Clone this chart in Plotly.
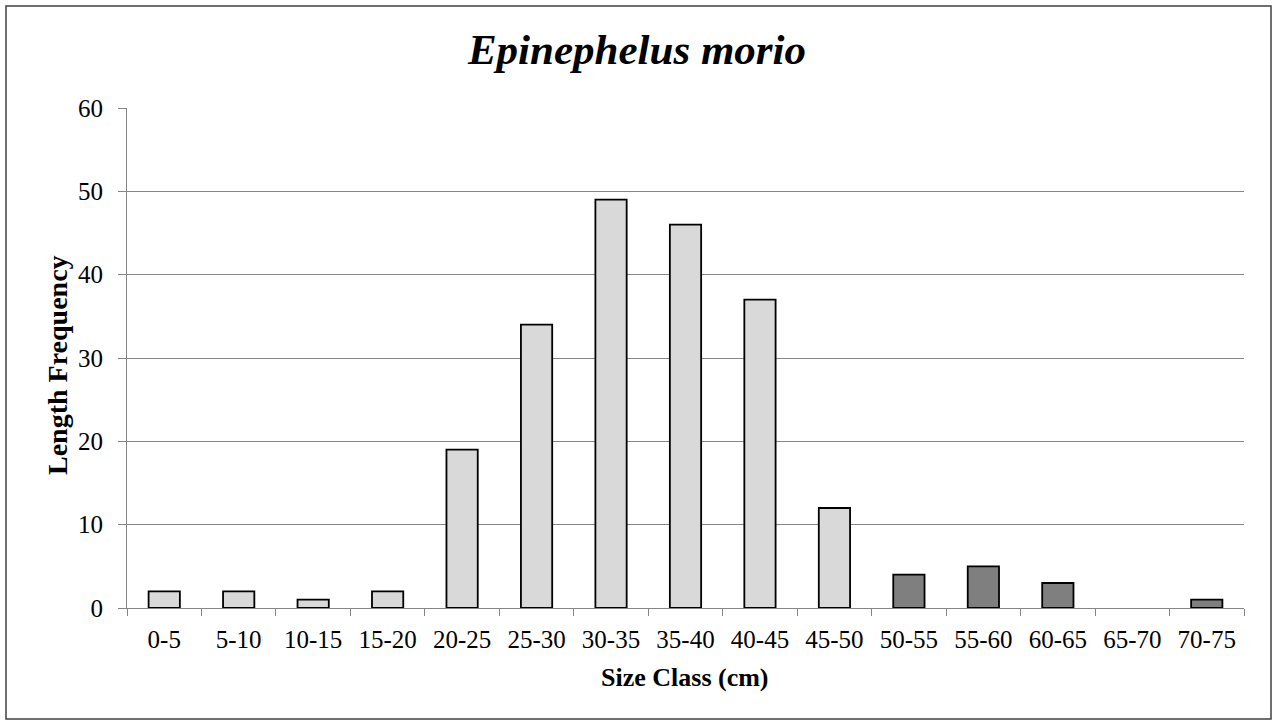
import plotly.graph_objects as go

size_classes = ["0-5", "5-10", "10-15", "15-20", "20-25", "25-30", "30-35", "35-40",
                "40-45", "45-50", "50-55", "55-60", "60-65", "65-70", "70-75"]
frequency = [2, 2, 1, 2, 19, 34, 49, 46, 37, 12, 4, 5, 3, 0, 1]
group = ["small"] * 10 + ["large"] * 5
y_ticks = [0, 10, 20, 30, 40, 50, 60]

W, H = 1275, 722
ML, MR, MT, MB = 127, 31, 108, 114
FONT = "Liberation Serif"
color_map = {"small": "#d9d9d9", "large": "#7f7f7f"}

pw = W - ML - MR
ph = H - MT - MB


def px_x(p):
    return (p - ML) / pw


def px_y(p):
    return (H - MB - p) / ph


fig = go.Figure()
fig.add_trace(go.Bar(
    x=size_classes, y=frequency,
    marker=dict(color=[color_map[g] for g in group],
                line=dict(color="black", width=[0 if v == 0 else 1.8 for v in frequency])),
    width=0.42,
))

fig.add_shape(type="rect", xref="paper", yref="paper",
              x0=px_x(6), x1=px_x(1271), y0=px_y(719), y1=px_y(6),
              line=dict(color="#404040", width=1.5), layer="below")

fig.add_annotation(text="<b>Size Class (cm)</b>", xref="paper", yref="paper",
                   x=px_x(685), y=px_y(677), xanchor="center", yanchor="middle",
                   showarrow=False, font=dict(family=FONT, size=26, color="black"))
fig.add_annotation(text="<b>Length Frequency</b>", xref="paper", yref="paper",
                   x=px_x(57), y=px_y(365), xanchor="center", yanchor="middle",
                   textangle=-90, showarrow=False, font=dict(family=FONT, size=28, color="black"))

fig.update_layout(
    width=W, height=H,
    margin=dict(l=ML, r=MR, t=MT, b=MB, pad=0),
    paper_bgcolor="white", plot_bgcolor="white",
    showlegend=False,
    font=dict(family=FONT, color="black"),
    title=dict(text="<b><i>Epinephelus morio</i></b>", xref="container", x=637 / W, xanchor="center",
               yref="container", y=1 - 49 / H, yanchor="middle",
               font=dict(family=FONT, size=43, color="black")),
    xaxis=dict(
        type="category", tickson="boundaries", ticks="outside", ticklen=7, tickcolor="#868686",
        showline=True, linecolor="#868686", linewidth=1, showgrid=False,
        tickfont=dict(family=FONT, size=25, color="black"), ticklabelstandoff=9,
    ),
    yaxis=dict(
        range=[0, 60], tickvals=y_ticks, ticks="outside", ticklen=8, tickcolor="#868686",
        showline=True, linecolor="#868686", linewidth=1,
        showgrid=True, gridcolor="#868686", gridwidth=1, zeroline=False,
        tickfont=dict(family=FONT, size=25, color="black"), ticklabelstandoff=10,
    ),
)

fig.write_html("out.html", config={"displayModeBar": False},
               post_script="document.body.style.margin='0';")
